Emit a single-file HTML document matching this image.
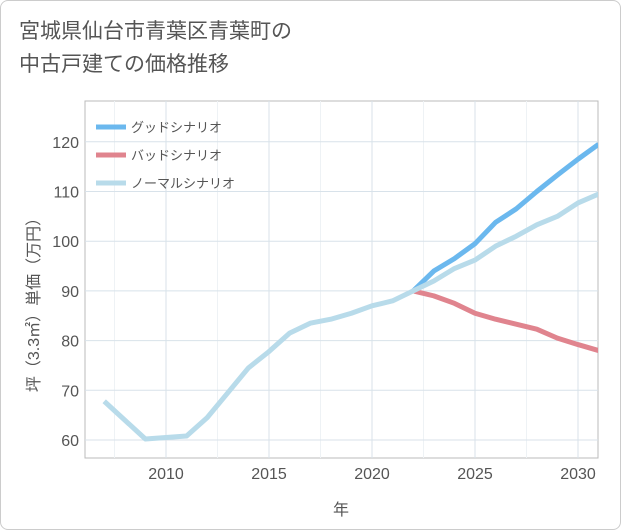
<!DOCTYPE html>
<html><head><meta charset="utf-8"><style>
body{margin:0;background:#fff;}
.wrap{position:relative;width:619px;height:528px;border:1px solid #ccc;border-radius:8px;background:#fff;overflow:hidden;font-family:"Liberation Sans","Noto Sans CJK JP",sans-serif;}
.title{position:absolute;left:18px;top:14px;font-size:21px;line-height:33px;color:#555;}
svg{position:absolute;left:0;top:0;}
</style></head><body>
<div class="wrap">
<div class="title">宮城県仙台市青葉区青葉町の<br>中古戸建ての価格推移</div>
<svg id="c" width="621" height="530"></svg>
</div>
<script>
const years=[2007,2008,2009,2010,2011,2012,2013,2014,2015,2016,2017,2018,2019,2020,2021,2022,2023,2024,2025,2026,2027,2028,2029,2030,2031];
const normal=[67.8,64,60.2,60.5,60.8,64.5,69.5,74.5,77.8,81.5,83.5,84.3,85.5,87,88,90,92,94.5,96.2,99,101,103.3,105,107.7,109.5];
const futYears=[2022,2023,2024,2025,2026,2027,2028,2029,2030,2031];
const good=[90,94,96.5,99.5,103.8,106.5,110,113.3,116.5,119.5];
const bad=[90,89,87.5,85.5,84.3,83.3,82.3,80.5,79.2,78];
const xTicks=[2010,2015,2020,2025,2030];
const yTicks=[60,70,80,90,100,110,120];
const L=84,R=597,T=100,B=457;
const x=v=>165+(v-2010)*20.6;
const y=v=>439-(v-60)*4.97;
const s=document.getElementById('c');const NS='http://www.w3.org/2000/svg';
function mk(t,a,p){const e=document.createElementNS(NS,t);for(const k in a)e.setAttribute(k,a[k]);(p||s).appendChild(e);return e;}
const bg=mk('rect',{x:L,y:T,width:R-L,height:B-T,fill:'#fff',stroke:'#bbb'});


xTicks.forEach(t=>{
 const g=mk('line',{x1:x(t),x2:x(t),y1:T,y2:B,stroke:'#d8e2ea'});
 
 
 const m=mk('line',{x1:x(t-2.5),x2:x(t-2.5),y1:T,y2:B,stroke:'#eef2f5'});
 
 
 const tx=mk('text',{x:x(t),y:478,'text-anchor':'middle','font-size':16,fill:'#555'});tx.textContent=t;
 
 
});
yTicks.forEach(t=>{
 const g=mk('line',{x1:L,x2:R,y1:y(t),y2:y(t),stroke:'#d8e2ea'});
 
 
 const tx=mk('text',{x:78,y:y(t)+6,'text-anchor':'end','font-size':16,fill:'#555'});tx.textContent=t;
 
 
});
const xt=mk('text',{x:340,y:514,'text-anchor':'middle','font-size':16,fill:'#555'});xt.textContent='年';


const yt=mk('text',{x:0,y:0,'text-anchor':'middle','font-size':16,fill:'#555',transform:'translate(38,300) rotate(-90)'});yt.textContent='坪（3.3㎡）単価（万円）';


mk('clipPath',{id:'cp'});mk('rect',{x:L,y:T,width:R-L,height:B-T},s.lastChild);
function line(xs,vs,col,name){
 const p=mk('polyline',{points:xs.map((v,i)=>x(v)+','+y(vs[i])).join(' '),fill:'none',stroke:col,'stroke-width':5,'stroke-linejoin':'round','clip-path':'url(#cp)'});
 
 
}
line(futYears,bad,'#e0848e','bad-scenario-line');
line(futYears,good,'#6bb8ee','good-scenario-line');
line(years,normal,'#b8dbea','normal-scenario-line');
[['グッドシナリオ','#6bb8ee',126],['バッドシナリオ','#e0848e',154],['ノーマルシナリオ','#b8dbea',182]].forEach(([n,c,yy])=>{
 const l=mk('line',{x1:95,x2:125,y1:yy,y2:yy,stroke:c,'stroke-width':5});
 
 
 const t=mk('text',{x:130,y:yy+5,'font-size':13,fill:'#555'});t.textContent=n;
 
 
});
</script>
</body></html>
